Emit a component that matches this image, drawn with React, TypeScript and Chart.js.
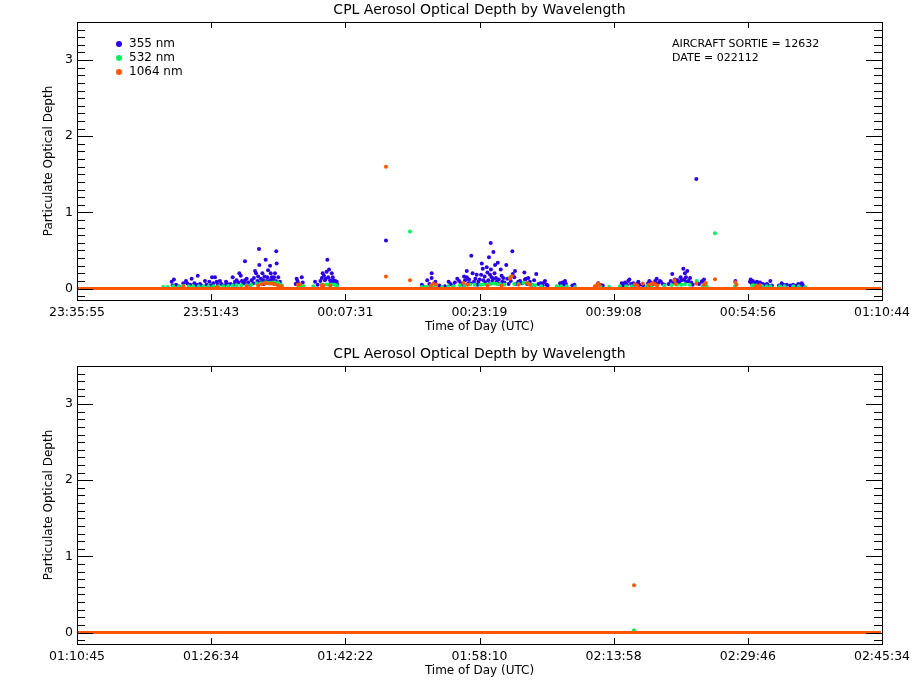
import { useEffect, useRef } from "react";
import { Chart, registerables } from "chart.js";

Chart.register(...registerables);

const FONT = "DejaVu Sans";
const BLUE = "#2c00e8";
const GREEN = "#00f060";
const ORANGE = "#ff5500";

// [seconds after the panel's first tick, optical depth]
const top355: [number, number][] = [
  [669, 0.09], [685, 0.12], [676, 0.04], [700, 0.05], [720, 0.03], [751, 0.07], [770, 0.1],
  [779, 0.07], [790, 0.04], [800, 0.05], [810, 0.13], [829, 0.07], [834, 0.04], [845, 0.05],
  [853, 0.17], [869, 0.06], [880, 0.04], [904, 0.1], [915, 0.05], [935, 0.09], [945, 0.04],
  [954, 0.15], [963, 0.07], [975, 0.15], [987, 0.09], [995, 0.05], [1010, 0.1], [1020, 0.06],
  [1040, 0.04], [1053, 0.09], [1058, 0.07], [1070, 0.05], [1085, 0.06], [1100, 0.15],
  [1110, 0.05], [1116, 0.09], [1128, 0.11], [1140, 0.08], [1147, 0.2], [1157, 0.17],
  [1165, 0.1], [1175, 0.07], [1187, 0.11], [1187, 0.36], [1195, 0.06], [1199, 0.13],
  [1210, 0.08], [1225, 0.05], [1234, 0.11], [1245, 0.07], [1250, 0.14], [1258, 0.23],
  [1265, 0.2], [1275, 0.1], [1280, 0.16], [1286, 0.52], [1288, 0.31], [1295, 0.08],
  [1300, 0.13], [1310, 0.2], [1316, 0.11], [1320, 0.06], [1325, 0.16], [1333, 0.38],
  [1340, 0.1], [1345, 0.15], [1350, 0.24], [1355, 0.07], [1364, 0.3], [1364, 0.11],
  [1369, 0.2], [1376, 0.15], [1380, 0.09], [1385, 0.12], [1392, 0.15], [1395, 0.06],
  [1399, 0.2], [1405, 0.1], [1408, 0.49], [1411, 0.33], [1415, 0.07], [1422, 0.15],
  [1430, 0.05], [1434, 0.09], [1545, 0.06], [1552, 0.13], [1558, 0.1], [1564, 0.07],
  [1575, 0.05], [1588, 0.15], [1595, 0.08], [1682, 0.09], [1700, 0.05], [1720, 0.1],
  [1730, 0.14], [1736, 0.2], [1745, 0.17], [1752, 0.11], [1758, 0.13], [1764, 0.22],
  [1769, 0.38], [1775, 0.15], [1781, 0.25], [1788, 0.11], [1795, 0.08], [1800, 0.2],
  [1807, 0.15], [1811, 0.11], [1815, 0.06], [1825, 0.1], [1835, 0.09], [1840, 0.05],
  [2183, 0.63], [2436, 0.05], [2445, 0.03], [2475, 0.11], [2490, 0.06], [2506, 0.2],
  [2506, 0.14], [2520, 0.05], [2532, 0.09], [2560, 0.04], [2600, 0.03], [2626, 0.09],
  [2640, 0.06], [2659, 0.04], [2670, 0.08], [2687, 0.13], [2700, 0.1], [2713, 0.07],
  [2725, 0.05], [2735, 0.16], [2742, 0.11], [2754, 0.23], [2754, 0.15], [2765, 0.07],
  [2770, 0.12], [2780, 0.07], [2786, 0.43], [2795, 0.2], [2805, 0.09], [2815, 0.13],
  [2824, 0.18], [2830, 0.05], [2836, 0.09], [2845, 0.12], [2855, 0.18], [2860, 0.33],
  [2867, 0.26], [2871, 0.11], [2880, 0.16], [2885, 0.08], [2895, 0.28], [2900, 0.21],
  [2906, 0.11], [2911, 0.41], [2915, 0.06], [2918, 0.18], [2923, 0.6], [2925, 0.25],
  [2930, 0.15], [2935, 0.1], [2942, 0.48], [2942, 0.13], [2950, 0.2], [2954, 0.31],
  [2960, 0.14], [2966, 0.09], [2973, 0.34], [2980, 0.12], [2985, 0.06], [2994, 0.25],
  [3000, 0.17], [3005, 0.09], [3012, 0.14], [3020, 0.08], [3033, 0.31], [3040, 0.13],
  [3050, 0.06], [3065, 0.1], [3076, 0.49], [3079, 0.19], [3090, 0.15], [3095, 0.23],
  [3100, 0.06], [3118, 0.09], [3130, 0.1], [3145, 0.07], [3161, 0.21], [3165, 0.12],
  [3173, 0.13], [3180, 0.06], [3189, 0.14], [3200, 0.09], [3215, 0.05], [3230, 0.11],
  [3245, 0.19], [3260, 0.06], [3277, 0.07], [3290, 0.04], [3300, 0.08], [3307, 0.1],
  [3319, 0.05], [3325, 0.04], [3413, 0.07], [3420, 0.04], [3430, 0.08], [3443, 0.05],
  [3448, 0.1], [3455, 0.06], [3500, 0.04], [3507, 0.03], [3515, 0.05], [3683, 0.07],
  [3695, 0.05], [3705, 0.04], [3715, 0.04], [3849, 0.07], [3855, 0.04], [3865, 0.06],
  [3872, 0.08], [3885, 0.05], [3895, 0.1], [3903, 0.12], [3915, 0.06], [3931, 0.07],
  [3940, 0.05], [3955, 0.06], [3966, 0.09], [3975, 0.05], [4000, 0.04], [4035, 0.07],
  [4044, 0.1], [4049, 0.04], [4055, 0.08], [4070, 0.06], [4085, 0.1], [4096, 0.13],
  [4105, 0.07], [4119, 0.1], [4125, 0.09], [4139, 0.06], [4150, 0.05], [4180, 0.06],
  [4195, 0.1], [4206, 0.19], [4215, 0.08], [4225, 0.12], [4235, 0.07], [4245, 0.11],
  [4255, 0.08], [4265, 0.15], [4273, 0.11], [4284, 0.26], [4290, 0.12], [4295, 0.2],
  [4303, 0.15], [4303, 0.09], [4312, 0.23], [4320, 0.1], [4332, 0.14], [4340, 0.08],
  [4350, 0.05], [4376, 1.44], [4379, 0.07], [4395, 0.06], [4414, 0.09], [4420, 0.1],
  [4430, 0.12], [4440, 0.06], [4652, 0.1], [4755, 0.09], [4760, 0.12], [4767, 0.07],
  [4775, 0.1], [4790, 0.08], [4805, 0.09], [4815, 0.07], [4826, 0.08], [4835, 0.06],
  [4845, 0.06], [4860, 0.05], [4875, 0.06], [4885, 0.04], [4899, 0.1], [4910, 0.04],
  [4960, 0.04], [4979, 0.07], [4990, 0.05], [5000, 0.04], [5015, 0.05], [5040, 0.04],
  [5060, 0.05], [5085, 0.04], [5097, 0.06], [5105, 0.05], [5121, 0.07], [5130, 0.04],
];

const top532: [number, number][] = [
  [610, 0.02], [640, 0.02], [680, 0.03], [720, 0.03], [751, 0.035], [790, 0.03], [822, 0.03],
  [860, 0.03], [892, 0.03], [930, 0.03], [963, 0.03], [1000, 0.03], [1034, 0.03],
  [1070, 0.035], [1100, 0.04], [1128, 0.044], [1160, 0.045], [1199, 0.044], [1230, 0.05],
  [1270, 0.066], [1300, 0.07], [1328, 0.08], [1340, 0.08], [1352, 0.074], [1370, 0.075],
  [1387, 0.08], [1400, 0.08], [1422, 0.074], [1435, 0.05], [1446, 0.044], [1564, 0.044],
  [1580, 0.04], [1599, 0.035], [1670, 0.03], [1729, 0.052], [1740, 0.05], [1764, 0.052],
  [1780, 0.055], [1800, 0.052], [1820, 0.05], [1835, 0.044], [2353, 0.75], [2436, 0.022],
  [2460, 0.02], [2475, 0.022], [2520, 0.025], [2580, 0.02], [2624, 0.031], [2660, 0.03],
  [2706, 0.044], [2740, 0.045], [2777, 0.052], [2810, 0.05], [2850, 0.05], [2870, 0.055],
  [2895, 0.052], [2920, 0.06], [2942, 0.066], [2965, 0.06], [2989, 0.057], [3020, 0.055],
  [3060, 0.15], [3090, 0.06], [3120, 0.06], [3154, 0.074], [3189, 0.066], [3210, 0.05],
  [3236, 0.044], [3280, 0.03], [3390, 0.031], [3420, 0.03], [3460, 0.031], [3519, 0.022],
  [3700, 0.02], [3761, 0.022], [3837, 0.031], [3880, 0.03], [3920, 0.03], [3955, 0.031],
  [4025, 0.031], [4060, 0.03], [4100, 0.035], [4150, 0.04], [4202, 0.048], [4240, 0.05],
  [4270, 0.05], [4296, 0.057], [4330, 0.05], [4379, 0.1], [4420, 0.035], [4449, 0.031],
  [4508, 0.725], [4649, 0.031], [4770, 0.04], [4779, 0.044], [4800, 0.04], [4840, 0.035],
  [4873, 0.031], [4900, 0.03], [4967, 0.031], [5000, 0.03], [5061, 0.031], [5100, 0.03],
  [5144, 0.022],
];

const top1064: [number, number][] = [
  [751, 0.03], [987, 0.022], [1199, 0.03], [1280, 0.04], [1305, 0.057], [1328, 0.074],
  [1340, 0.07], [1364, 0.066], [1380, 0.065], [1399, 0.057], [1420, 0.04], [1446, 0.03],
  [1560, 0.05], [1576, 0.057], [1729, 0.044], [1740, 0.04], [1790, 0.04], [2183, 1.6],
  [2183, 0.157], [2353, 0.109], [2500, 0.04], [2518, 0.066], [2540, 0.05], [2730, 0.074],
  [2760, 0.05], [2900, 0.04], [3000, 0.04], [3060, 0.131], [3072, 0.162], [3120, 0.05],
  [3178, 0.074], [3200, 0.05], [3660, 0.03], [3672, 0.044], [3683, 0.066], [3690, 0.05],
  [3943, 0.057], [3960, 0.04], [3997, 0.066], [4040, 0.05], [4060, 0.06], [4068, 0.074],
  [4084, 0.057], [4100, 0.04], [4221, 0.109], [4230, 0.06], [4376, 0.066], [4430, 0.05],
  [4442, 0.074], [4508, 0.122], [4652, 0.083], [4660, 0.05], [4800, 0.03], [4826, 0.044],
];

const bottom355: [number, number][] = [];
const bottom532: [number, number][] = [[3936, 0.03]];
const bottom1064: [number, number][] = [[3936, 0.62]];

// zero retrievals at 1064 nm run across both panels
const topZeroLevel: [number, number][] = [[0, 0], [5681, 0]];
const bottomZeroLevel: [number, number][] = [[0, 0], [5681, 0]];

const tickSeconds = [0, 948, 1896, 2844, 3792, 4740, 5688];
const topTickLabels = ["23:35:55", "23:51:43", "00:07:31", "00:23:19", "00:39:08", "00:54:56", "01:10:44"];
const bottomTickLabels = ["01:10:45", "01:26:34", "01:42:22", "01:58:10", "02:13:58", "02:29:46", "02:45:34"];
const depthTicks = [0, 1, 2, 3];
const legendLabels = ["355 nm", "532 nm", "1064 nm"];
const legendColors = [BLUE, GREEN, ORANGE];
const sortieLines = ["AIRCRAFT SORTIE = 12632", "DATE = 022112"];

const TITLE = "CPL Aerosol Optical Depth by Wavelength";

type Props = {
  tickLabels: string[];
  s355: [number, number][];
  s532: [number, number][];
  s1064: [number, number][];
  zero: [number, number][];
  showLegend: boolean;
};

const pts = (arr: [number, number][]) => arr.map(([x, y]) => ({ x, y }));

function Panel({ tickLabels, s355, s532, s1064, zero, showLegend }: Props) {
  const canvasRef = useRef<HTMLCanvasElement>(null);

  useEffect(() => {
    if (!canvasRef.current) return;

    const decor = {
      id: "decor",
      afterDatasetsDraw(chart: any) {
        const { ctx, chartArea: a, scales } = chart;
        const xs = scales.x;
        const ys = scales.y;
        ctx.save();
        ctx.strokeStyle = "#000";
        ctx.lineWidth = 1;
        ctx.strokeRect(a.left + 0.5, a.top + 0.5, a.right - a.left, a.bottom - a.top);
        ctx.beginPath();
        for (const t of tickSeconds) {
          const px = Math.round(xs.getPixelForValue(t)) + 0.5;
          ctx.moveTo(px, a.bottom);
          ctx.lineTo(px, a.bottom - 6);
          ctx.moveTo(px, a.top);
          ctx.lineTo(px, a.top + 6);
        }
        for (let i = -1; i <= 34; i++) {
          const py = Math.round(ys.getPixelForValue(i / 10)) + 0.5;
          const len = i % 10 === 0 ? 16 : 8;
          ctx.moveTo(a.left, py);
          ctx.lineTo(a.left + len, py);
          ctx.moveTo(a.right, py);
          ctx.lineTo(a.right - len, py);
        }
        ctx.stroke();
        ctx.restore();
      },
      afterDraw(chart: any) {
        const { ctx, chartArea: a } = chart;
        ctx.save();
        ctx.fillStyle = "#000";
        ctx.textBaseline = "middle";
        ctx.textAlign = "center";
        ctx.font = `14px "${FONT}"`;
        ctx.fillText(TITLE, (a.left + a.right) / 2, 10);
        if (showLegend) {
          ctx.textAlign = "left";
          ctx.font = `12px "${FONT}"`;
          legendLabels.forEach((label, i) => {
            const cy = a.top + 22 + i * 14;
            ctx.fillStyle = legendColors[i];
            ctx.beginPath();
            ctx.arc(a.left + 42, cy, 3, 0, Math.PI * 2);
            ctx.fill();
            ctx.fillStyle = "#000";
            ctx.fillText(label, a.left + 52, cy);
          });
          ctx.font = `11px "${FONT}"`;
          sortieLines.forEach((line, i) => {
            ctx.fillText(line, a.left + 595, a.top + 22 + i * 14);
          });
        }
        ctx.restore();
      },
    };

    const dot = (color: string) => ({
      pointRadius: 2,
      pointStyle: "circle" as const,
      backgroundColor: color,
      borderWidth: 0,
      showLine: false,
    });

    const chart = new Chart(canvasRef.current, {
      type: "scatter",
      data: {
        datasets: [
          {
            label: "1064 nm zero",
            data: pts(zero),
            showLine: true,
            borderColor: ORANGE,
            borderWidth: 3,
            pointRadius: 0,
          },
          { label: "1064 nm", data: pts(s1064), ...dot(ORANGE) },
          { label: "532 nm", data: pts(s532), ...dot(GREEN) },
          { label: "355 nm", data: pts(s355), ...dot(BLUE) },
        ],
      },
      options: {
        responsive: false,
        animation: false,
        events: [],
        layout: { padding: { left: 0, right: 38, top: 22, bottom: 0 } },
        plugins: {
          legend: { display: false },
          tooltip: { enabled: false },
        },
        scales: {
          x: {
            type: "linear",
            min: 0,
            max: 5688,
            grid: { display: false, drawTicks: false },
            border: { display: false },
            afterBuildTicks: (s: any) => {
              s.ticks = tickSeconds.map((value) => ({ value }));
            },
            afterFit: (s: any) => {
              s.height = 45;
            },
            ticks: {
              autoSkip: false,
              maxRotation: 0,
              padding: 5,
              color: "#000",
              font: { family: FONT, size: 12.5 },
              callback: (_v: any, i: number) => tickLabels[i],
            },
            title: {
              display: true,
              text: "Time of Day (UTC)",
              color: "#000",
              font: { family: FONT, size: 12 },
              padding: { top: 0, bottom: 11 },
            },
          },
          y: {
            type: "linear",
            min: -0.15,
            max: 3.5,
            grid: { display: false, drawTicks: false },
            border: { display: false },
            afterBuildTicks: (s: any) => {
              s.ticks = depthTicks.map((value) => ({ value }));
            },
            afterFit: (s: any) => {
              s.width = 77;
            },
            ticks: {
              autoSkip: false,
              padding: 4,
              color: "#000",
              font: { family: FONT, size: 12.5 },
              callback: (_v: any, i: number) => String(depthTicks[i]),
            },
            title: {
              display: true,
              text: "Particulate Optical Depth",
              color: "#000",
              font: { family: FONT, size: 12 },
              padding: { top: 42, bottom: 0 },
            },
          },
        },
      },
      plugins: [decor],
    });

    return () => {
      chart.destroy();
    };
  }, [tickLabels, s355, s532, s1064, zero, showLegend]);

  return <canvas ref={canvasRef} width={920} height={345} style={{ display: "block" }} />;
}

export default function App() {
  return (
    <div style={{ position: "absolute", left: 0, top: 0, width: 920, height: 690, background: "#fff" }}>
      <div style={{ position: "absolute", left: 0, top: 0 }}>
        <Panel tickLabels={topTickLabels} s355={top355} s532={top532} s1064={top1064} zero={topZeroLevel} showLegend />
      </div>
      <div style={{ position: "absolute", left: 0, top: 344 }}>
        <Panel
          tickLabels={bottomTickLabels}
          s355={bottom355}
          s532={bottom532}
          s1064={bottom1064}
          zero={bottomZeroLevel}
          showLegend={false}
        />
      </div>
    </div>
  );
}
